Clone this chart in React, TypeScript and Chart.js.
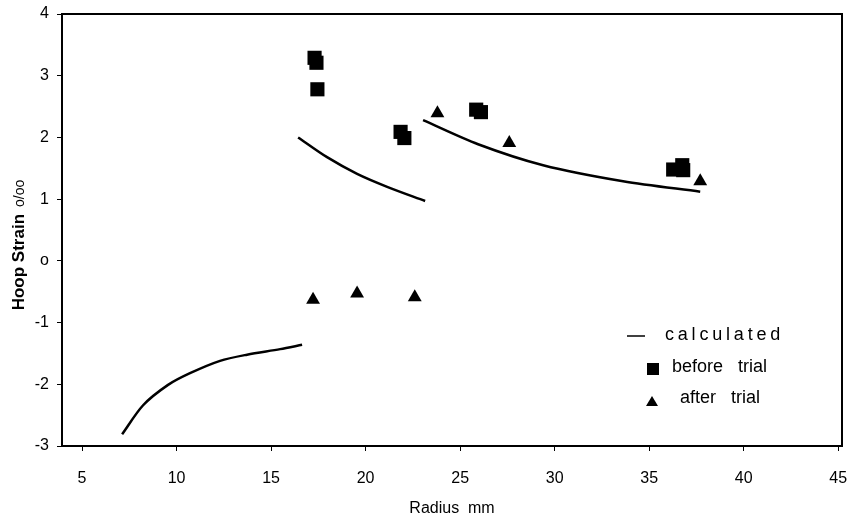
import React, { useEffect, useRef } from "react";
import { Chart, registerables } from "chart.js";

Chart.register(...registerables);

// Axis ticks
const xTicks = [5, 10, 15, 20, 25, 30, 35, 40, 45];
const yTicks = [-3, -2, -1, 0, 1, 2, 3, 4];

// "calculated" curves (three separate segments)
const calcSeg1X = [7.12, 8.23, 9.55, 10.71, 12.3, 13.73, 15.48, 16.64];
const calcSeg1Y = [-2.81, -2.34, -2.01, -1.82, -1.62, -1.52, -1.43, -1.36];
const calcSeg2X = [16.43, 17.96, 19.55, 21.14, 23.15];
const calcSeg2Y = [2.0, 1.68, 1.41, 1.2, 0.97];
const calcSeg3X = [23.04, 25.95, 29.39, 33.62, 37.7];
const calcSeg3Y = [2.28, 1.89, 1.55, 1.29, 1.12];

// measured before trial (squares)
const beforeX = [17.3, 17.4, 17.45, 21.85, 22.05, 25.85, 26.1, 36.75, 36.8, 36.27];
const beforeY = [3.29, 3.21, 2.78, 2.09, 1.99, 2.45, 2.41, 1.55, 1.47, 1.48];

// measured after trial (triangles)
const afterX = [17.22, 19.55, 22.6, 23.8, 27.6, 37.7];
const afterY = [-0.63, -0.53, -0.59, 2.39, 1.91, 1.29];

const FONT = "'Liberation Sans', Arial, sans-serif";

const zip = (xs: number[], ys: number[]) => xs.map((x, i) => ({ x, y: ys[i] }));

const framePlugin = {
  id: "frameAndLegend",
  afterDraw(chart: any) {
    const { ctx, chartArea } = chart;
    const { left, right, top, bottom } = chartArea;
    ctx.save();
    // frame
    ctx.strokeStyle = "#000";
    ctx.lineWidth = 2;
    ctx.strokeRect(left, top, right - left, bottom - top);

    // y title with mixed fonts
    ctx.save();
    ctx.translate(18, (top + bottom) / 2 + 15);
    ctx.rotate(-Math.PI / 2);
    ctx.fillStyle = "#000";
    ctx.textBaseline = "alphabetic";
    const big = "Hoop Strain";
    const small = "o/oo";
    const gap = 7;
    ctx.font = `bold 17px ${FONT}`;
    const wBig = ctx.measureText(big).width;
    ctx.font = `14px ${FONT}`;
    const wSmall = ctx.measureText(small).width;
    const start = -(wBig + gap + wSmall) / 2;
    ctx.font = `bold 17px ${FONT}`;
    ctx.fillText(big, start, 6);
    ctx.font = `14px ${FONT}`;
    ctx.fillText(small, start + wBig + gap, 6);
    ctx.restore();

    // legend
    ctx.fillStyle = "#000";
    ctx.strokeStyle = "#000";
    ctx.textBaseline = "middle";
    ctx.textAlign = "left";
    ctx.font = `18px ${FONT}`;
    // calculated
    ctx.lineWidth = 1.5;
    ctx.beginPath();
    ctx.moveTo(right - 215, bottom - 110);
    ctx.lineTo(right - 197, bottom - 110);
    ctx.stroke();
    (ctx as any).letterSpacing = "3.8px";
    ctx.fillText("calculated", right - 177, bottom - 111);
    (ctx as any).letterSpacing = "0px";
    // before trial
    ctx.fillRect(right - 195, bottom - 83, 12, 12);
    ctx.fillText("before   trial", right - 170, bottom - 79);
    // after trial
    ctx.beginPath();
    ctx.moveTo(right - 190, bottom - 50);
    ctx.lineTo(right - 184, bottom - 40);
    ctx.lineTo(right - 196, bottom - 40);
    ctx.closePath();
    ctx.fill();
    ctx.fillText("after   trial", right - 162, bottom - 48);
    ctx.restore();
  },
};

export default function App() {
  const canvasRef = useRef<HTMLCanvasElement | null>(null);

  useEffect(() => {
    if (!canvasRef.current) return;
    const lineStyle = {
      type: "scatter" as const,
      showLine: true,
      borderColor: "#000",
      borderWidth: 2.5,
      pointRadius: 0,
      tension: 0.3,
      fill: false,
    };
    const chart = new Chart(canvasRef.current, {
      type: "scatter",
      data: {
        datasets: [
          { ...lineStyle, label: "calculated", data: zip(calcSeg1X, calcSeg1Y) },
          { ...lineStyle, label: "calculated 2", data: zip(calcSeg2X, calcSeg2Y) },
          { ...lineStyle, label: "calculated 3", data: zip(calcSeg3X, calcSeg3Y) },
          {
            label: "before trial",
            data: zip(beforeX, beforeY),
            pointStyle: "rect",
            pointRadius: 10,
            backgroundColor: "#000",
            borderColor: "#000",
            borderWidth: 0,
          },
          {
            label: "after trial",
            data: zip(afterX, afterY),
            pointStyle: "triangle",
            pointRadius: 8,
            backgroundColor: "#000",
            borderColor: "#000",
            borderWidth: 0,
          },
        ],
      },
      options: {
        animation: false,
        responsive: false,
        layout: { padding: { top: 14, right: 15, left: 0, bottom: 0 } },
        plugins: {
          legend: { display: false },
          tooltip: { enabled: false },
        },
        scales: {
          x: {
            type: "linear",
            min: 3.94,
            max: 45.2,
            afterBuildTicks: (scale: any) => {
              scale.ticks = xTicks.map((v) => ({ value: v }));
            },
            afterFit: (scale: any) => {
              scale.height = 85;
              scale.paddingLeft = 0;
              scale.paddingRight = 0;
            },
            grid: {
              display: true,
              drawOnChartArea: false,
              drawTicks: true,
              tickLength: 5,
              color: "#000",
            },
            border: { display: false },
            ticks: {
              color: "#000",
              padding: 18,
              maxRotation: 0,
              autoSkip: false,
              font: { family: FONT, size: 16 },
            },
            title: {
              display: true,
              text: "Radius  mm",
              color: "#000",
              font: { family: FONT, size: 16 },
              padding: { top: 0, bottom: 13 },
            },
          },
          y: {
            type: "linear",
            min: -3,
            max: 4,
            afterBuildTicks: (scale: any) => {
              scale.ticks = yTicks.map((v) => ({ value: v }));
            },
            afterFit: (scale: any) => {
              scale.width = 62;
              scale.paddingTop = 0;
              scale.paddingBottom = 0;
            },
            grid: {
              display: true,
              drawOnChartArea: false,
              drawTicks: true,
              tickLength: 5,
              color: "#000",
            },
            border: { display: false },
            ticks: {
              color: "#000",
              padding: 8,
              font: { family: FONT, size: 16 },
              callback: (v: any) => (v === 0 ? "o" : String(v)),
            },
            title: { display: false },
          },
        },
      },
      plugins: [framePlugin],
    });
    return () => chart.destroy();
  }, []);

  return (
    <div style={{ position: "absolute", left: 0, top: 0, width: 857, height: 531, background: "#fff" }}>
      <canvas ref={canvasRef} width={857} height={531} style={{ display: "block" }} />
    </div>
  );
}
